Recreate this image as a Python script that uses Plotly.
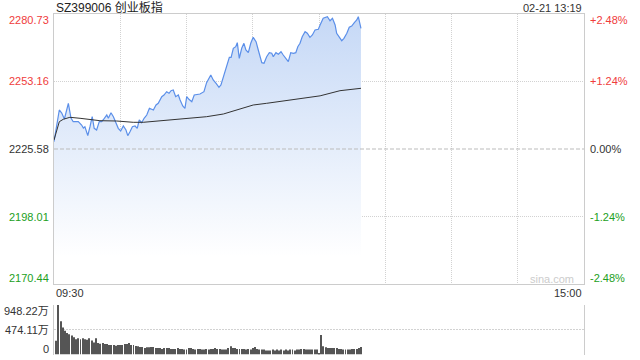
import plotly.graph_objects as go

# ---------------- data ----------------
title_text = "SZ399006 创业板指"
date_text = "02-21 13:19"
time_labels = ["09:30", "15:00"]
pre_close = 2225.58
price_levels = [2280.73, 2253.16, 2225.58, 2198.01, 2170.44]
vol_levels = [0, 474.11, 948.22]

# minutes since 09:30 (lunch break removed)
price_t = [0, 2.4, 3.5, 4.7, 6.5, 7.7, 8.7, 11, 12.5, 13.3,
           14, 15.3, 16.3, 17.3, 18.2, 19.3, 20.5, 21.6, 22.8, 23.9,
           24.6, 25.8, 26.9, 28.1, 29.1, 30.2, 31.4, 32.6, 33.4, 34.4,
           35.5, 36.7, 37.7, 38.6, 39.7, 40.8, 42, 43.2, 44.2, 45,
           46.2, 47.2, 48.8, 49.8, 51, 52.1, 53, 54, 55.1, 56.3,
           57.1, 58.3, 59.3, 60.1, 61.1, 62.4, 63.5, 64.6, 66.1, 67.9,
           69.1, 71, 72.1, 73.4, 74.7, 75.6, 77, 78.2, 79.4, 80.2,
           81.2, 82.3, 83, 83.9, 85, 86, 86.9, 88, 89.1, 90.2,
           91.5, 92.5, 94.1, 95.1, 96.3, 97.5, 98.6, 99.3, 100.5, 101.6,
           102.8, 103.8, 104.9, 106.1, 107.2, 108.4, 109.5, 110.4, 111.4, 112.4,
           113.7, 114.7, 115.9, 117, 118.2, 119.7, 120.5, 121.9, 123.8, 125,
           126.1, 127.3, 128, 129.2, 130.3, 131.3, 132.6, 133.7, 134.8, 136,
           137.1, 137.8, 139]
price_v = [2228.57, 2241.52, 2240.29, 2237.84, 2244.25, 2238.25, 2236.74, 2236.74, 2235.39, 2234.16,
           2234.69, 2231.02, 2234.69, 2238.78, 2234.04, 2233.35, 2236.74, 2236.74, 2238.13, 2239.47,
           2238.13, 2240.41, 2238.78, 2236.08, 2234.04, 2232.94, 2234.98, 2233.35, 2231.02, 2232.65,
           2234.69, 2234.98, 2234.04, 2237.43, 2236.33, 2238.13, 2239.47, 2242.21, 2241.92, 2241.52,
           2243.56, 2244.25, 2246.95, 2247.64, 2248.99, 2248.34, 2249.40, 2249.69, 2246.95, 2247.64,
           2245.60, 2243.15, 2242.21, 2246.95, 2245.89, 2244.91, 2247.64, 2247.93, 2248.05, 2248.99,
           2252.67, 2255.81, 2253.77, 2252.42, 2250.79, 2251.73, 2255.81, 2259.90, 2263.04, 2263.04,
           2266.72, 2267.37, 2269.01, 2262.63, 2266.72, 2268.76, 2266.02, 2264.92, 2268.76, 2271.21,
           2269.41, 2266.02, 2260.84, 2260.59, 2263.29, 2264.92, 2264.68, 2263.29, 2264.92, 2264.27,
           2265.33, 2263.98, 2262.63, 2261.25, 2264.92, 2264.68, 2264.92, 2267.37, 2268.76, 2271.46,
           2273.50, 2272.85, 2271.21, 2272.15, 2274.19, 2274.48, 2276.24, 2278.97, 2279.63, 2277.99,
           2278.97, 2276.24, 2272.85, 2271.46, 2269.82, 2270.80, 2272.85, 2275.30, 2275.83, 2277.18,
           2278.28, 2279.63, 2274.89]

avg_t = [0, 1.2, 2.4, 4.2, 7.2, 11.8, 20.8, 28.4, 35.9, 40.4, 51,
         60.1, 69.1, 76.7, 82.7, 90.2, 96.3, 105.4, 114.4, 120.5, 129.5, 139]
avg_v = [2229.26, 2233.35, 2236.74, 2237.72, 2238.53, 2238.13, 2237.15, 2237.02, 2236.49, 2236.49, 2237.43,
         2238.13, 2238.78, 2239.88, 2241.52, 2243.56, 2244.25, 2245.31, 2246.29, 2247.30, 2249.40, 2250.38]

# volume per minute (万), minutes 1..139
volume = [262, 948.22, 636, 518, 455, 412, 387, 362, 331, 293,
          312, 293, 312, 293, 281, 312, 268, 231, 312, 218,
          206, 218, 200, 200, 181, 181, 181, 168, 181, 181,
          181, 200, 200, 218, 181, 181, 162, 156, 143, 143,
          125, 137, 137, 143, 143, 125, 125, 125,
          106, 125, 125, 125, 106, 106, 106, 125, 106, 106,
          94, 94, 125, 125, 106, 94, 106, 106, 94, 94,
          106, 94, 106, 106, 125, 106, 106, 94, 94, 94,
          125, 156, 125, 125, 106, 106, 106, 106, 94, 106,
          94, 125, 143, 106, 94,
          94, 94, 75, 75, 75, 94, 75, 94, 75, 94,
          75, 94, 75, 94, 94, 75, 94, 94, 106, 106,
          94, 94, 94, 94, 94, 94, 12, 374, 156, 137,
          125, 125, 125, 125, 125, 106, 106, 94, 94, 94,
          94, 106, 106, 106, 125, 143]
vol_t = list(range(1, len(volume) + 1))

# ---------------- figure ----------------
W, H = 640, 360
FONT = "Liberation Sans, Arial, Noto Sans CJK SC, sans-serif"
RED, GREEN, DARK = "#f03c3c", "#22a022", "#333333"
GRID = "#d2d2d2"

x0p, x1p = 54 / W, 584 / W
main_dom = [1 - 284 / H, 1 - 14 / H]
vol_dom = [1 - 354.5 / H, 1 - 305 / H]

fig = go.Figure()
fig.add_trace(go.Scatter(
    x=price_t, y=price_v, mode="lines",
    line=dict(color="#5b8fe9", width=1.2),
    fill="tozeroy",
    fillgradient=dict(type="vertical",
                      colorscale=[[0, "rgba(255,255,255,1)"], [1, "#c5d8f6"]],
                      start=2181.5, stop=price_levels[0]),
    hoverinfo="skip", xaxis="x", yaxis="y"))
fig.add_trace(go.Scatter(
    x=avg_t, y=avg_v, mode="lines",
    line=dict(color="#333333", width=1),
    hoverinfo="skip", xaxis="x", yaxis="y"))
fig.add_trace(go.Bar(
    x=vol_t, y=volume, width=0.44,
    marker=dict(color="#555555", line=dict(width=0)),
    hoverinfo="skip", xaxis="x2", yaxis="y2"))

grid_x = [30, 60, 90, 120, 150, 180, 210]

fig.update_layout(
    width=W, height=H, margin=dict(l=0, r=0, t=0, b=0),
    paper_bgcolor="white", plot_bgcolor="white",
    showlegend=False, font=dict(family=FONT, size=11, color=DARK),
    xaxis=dict(domain=[x0p, x1p], range=[0, 240], tickvals=grid_x,
               showticklabels=False, ticks="", showgrid=True, gridcolor=GRID,
               griddash="1px,1px", zeroline=False, showline=True, mirror=True,
               linecolor="#cccccc", linewidth=1, anchor="y"),
    yaxis=dict(domain=main_dom, range=[price_levels[-1], price_levels[0]],
               tickvals=[price_levels[1], price_levels[3]],
               showticklabels=False, ticks="", showgrid=True, gridcolor=GRID,
               griddash="1px,1px", zeroline=False, showline=True, mirror=True,
               linecolor="#cccccc", linewidth=1, anchor="x"),
    xaxis2=dict(domain=[x0p, x1p], range=[0, 240], showticklabels=False,
                showgrid=False, zeroline=False, showline=False, anchor="y2"),
    yaxis2=dict(domain=vol_dom, range=[0, vol_levels[-1]], tickvals=vol_levels,
                showticklabels=False, ticks="", showgrid=True, gridcolor=GRID,
                griddash="2px,1px", zeroline=False, showline=True, mirror=True,
                linecolor="#cccccc", linewidth=1, anchor="x2"),
)

# previous close dashed line
fig.add_shape(type="line", xref="x domain", yref="y", x0=0, x1=1,
              y0=pre_close, y1=pre_close,
              line=dict(color="#bbbbbb", width=1, dash="4px,2px"))

ann = []
n = len(price_levels)
for i, v in enumerate(price_levels):
    shift = -6.5 if i == 0 else (6.5 if i == n - 1 else 0)
    col = RED if v > pre_close + 1e-9 else (GREEN if v < pre_close - 1e-9 else DARK)
    pct = (v - pre_close) / pre_close * 100
    pct_txt = "0.00%" if abs(pct) < 0.005 else f"{pct:+.2f}%"
    ann.append(dict(x=51 / W, xref="paper", y=v, yref="y", text=f"{v:.2f}",
                    xanchor="right", yanchor="middle", yshift=shift,
                    showarrow=False, font=dict(color=col, size=11)))
    ann.append(dict(x=588 / W, xref="paper", y=v, yref="y", text=pct_txt,
                    xanchor="left", yanchor="middle", yshift=shift,
                    showarrow=False, font=dict(color=col, size=11)))

for i, v in enumerate(vol_levels):
    shift = 6 if i == 0 else (-5.5 if i == len(vol_levels) - 1 else 0)
    txt = "0" if v == 0 else f"{v:.2f}万"
    ann.append(dict(x=51 / W, xref="paper", y=v, yref="y2", text=txt,
                    xanchor="right", yanchor="middle", yshift=shift,
                    showarrow=False, font=dict(color=DARK, size=11)))

ann.append(dict(x=0, xref="x", y=1 - 293 / H, yref="paper", text=time_labels[0],
                xanchor="left", yanchor="middle", showarrow=False,
                font=dict(color=DARK, size=11)))
ann.append(dict(x=240, xref="x", y=1 - 293 / H, yref="paper", text=time_labels[1],
                xanchor="right", yanchor="middle", showarrow=False,
                font=dict(color=DARK, size=11)))
ann.append(dict(x=x0p, xref="paper", y=1 - 7.5 / H, yref="paper", text=title_text,
                xanchor="left", yanchor="middle", showarrow=False,
                font=dict(color="#222222", size=12)))
ann.append(dict(x=x1p, xref="paper", y=1 - 7.5 / H, yref="paper", text=date_text,
                xanchor="right", yanchor="middle", showarrow=False,
                font=dict(color=DARK, size=11)))
ann.append(dict(x=552 / W, xref="paper", y=1 - 279 / H, yref="paper", text="sina.com",
                xanchor="center", yanchor="middle", showarrow=False,
                font=dict(color="#cccccc", size=11)))

fig.update_layout(annotations=ann)
fig.write_html("out.html")
